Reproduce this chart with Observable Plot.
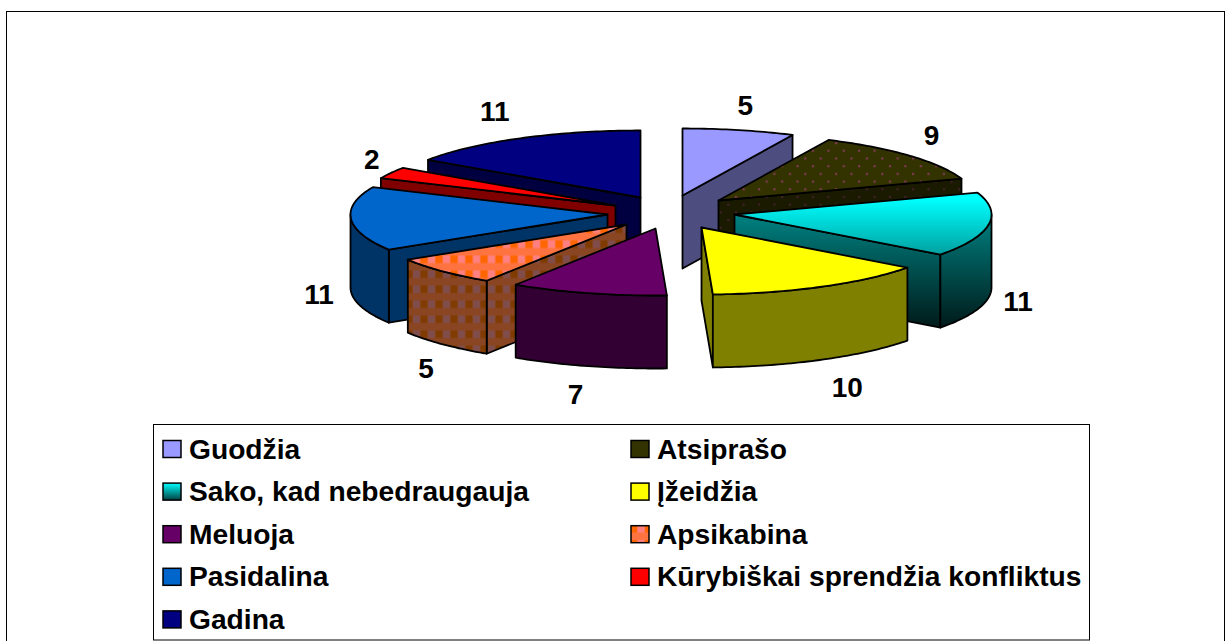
<!DOCTYPE html>
<html lang="lt">
<head>
<meta charset="utf-8">
<script src="https://cdn.jsdelivr.net/npm/d3@7"></script>
<script src="https://cdn.jsdelivr.net/npm/@observablehq/plot@0.6"></script>
<style>
html,body{margin:0;padding:0;background:#fff;overflow:hidden}
#chart svg{display:block}
</style>
</head>
<body>
<svg width="0" height="0" style="position:absolute">
  <defs>
    <linearGradient id="sakoTop" gradientUnits="userSpaceOnUse" x1="0" x2="0" y1="198" y2="255">
      <stop offset="0" stop-color="#00ffff"/><stop offset="1" stop-color="#009f9f"/>
    </linearGradient>
    <linearGradient id="sakoWall" gradientUnits="userSpaceOnUse" x1="0" x2="0" y1="215" y2="327">
      <stop offset="0" stop-color="#008080"/><stop offset="1" stop-color="#001a1a"/>
    </linearGradient>
    <linearGradient id="sakoKey" x1="0" x2="0" y1="0" y2="1">
      <stop offset="0" stop-color="#00ffff"/><stop offset="1" stop-color="#004040"/>
    </linearGradient>
    <pattern id="dotsTop" patternUnits="userSpaceOnUse" width="15.4" height="15.4">
      <rect width="15.4" height="15.4" fill="#333300"/>
      <rect x="3" y="3" width="2" height="2" fill="#8a3a60"/>
      <rect x="10.7" y="10.7" width="2" height="2" fill="#8a3a60"/>
    </pattern>
    <pattern id="dotsWall" patternUnits="userSpaceOnUse" width="15.4" height="15.4">
      <rect width="15.4" height="15.4" fill="#1a1a00"/>
      <rect x="3" y="3" width="2" height="2" fill="#452030"/>
      <rect x="10.7" y="10.7" width="2" height="2" fill="#452030"/>
    </pattern>
    <pattern id="plaidTop" patternUnits="userSpaceOnUse" width="15" height="15">
      <rect width="15" height="15" fill="#ff7340"/>
      <rect x="0" y="0" width="7" height="7.5" fill="#ff6600"/>
      <rect x="7.5" y="0" width="7" height="7.5" fill="#ff8080"/>
    </pattern>
    <pattern id="plaidWall" patternUnits="userSpaceOnUse" width="15" height="15">
      <rect width="15" height="15" fill="#8a4522"/>
      <rect x="0" y="0" width="7" height="7.5" fill="#803c00"/>
      <rect x="7.5" y="0" width="7" height="7.5" fill="#804d4d"/>
    </pattern>
  </defs>
</svg>
<div id="chart"></div>
<script>
// Chart values
const categories = ["Guodžia","Atsiprašo","Sako, kad nebedraugauja","Įžeidžia","Meluoja","Apsikabina","Pasidalina","Kūrybiškai sprendžia konfliktus","Gadina"];
const values = [5,9,11,10,7,5,11,2,11];

// Styles
const topFills = ["#9999ff","url(#dotsTop)","url(#sakoTop)","#ffff00","#660066","url(#plaidTop)","#0066cc","#ff0000","#000080"];
const wallFills = ["#4d4d80","url(#dotsWall)","url(#sakoWall)","#808000","#330033","url(#plaidWall)","#003366","#800000","#000040"];
const keyFills = ["#9999ff","#333300","url(#sakoKey)","#ffff00","#660066","url(#plaidTop)","#0066cc","#ff0000","#000080"];

// Layout: projected pie shape, and where each exploded slice's tip lands
const rx = 257, ry = 67, depth = 73;
const tipX = [682,718,734,701,655,626,607,615,640];
const tipY = [195,200,214,227,228,224,214,205,197];
const labelNudgeX = [0,0,1,12,-5,4,-3,6,-12];
const labelNudgeY = [0,-3,0,6,5,7,1,-1,-4];
const paintOrder = [8,7,0,1,6,2,5,4,3];
const font = "Liberation Sans, Arial, sans-serif";

const total = d3.sum(values);
const rad = d => d * Math.PI / 180;
let running = 0;
const slices = values.map((v, i) => {
  const a0 = running / total * 360; running += v;
  const a1 = running / total * 360;
  return {i, a0, a1, mid: (a0 + a1) / 2, tx: tipX[i], ty: tipY[i]};
});
const rim = (s, a, dy = 0) => ({x: s.tx + rx * Math.sin(rad(a)), y: s.ty - ry * Math.cos(rad(a)) + dy});
const arc = (s, from, to, dy = 0) => {
  const pts = [], n = Math.max(1, Math.ceil(Math.abs(to - from)));
  for (let k = 0; k <= n; k++) pts.push(rim(s, from + (to - from) * k / n, dy));
  return pts;
};
const face = (pts, fill) => Plot.line(pts, {x: "x", y: "y", fill, stroke: "#000", strokeWidth: 1.8, strokeLinejoin: "round", curve: "linear-closed"});
const tip = (s, dy = 0) => ({x: s.tx, y: s.ty + dy});

const pieMarks = paintOrder.flatMap(i => {
  const s = slices[i], marks = [];
  // Only the cut faces turned towards the viewer are drawn
  for (const [a, normal] of [[s.a0, s.a0 - 90], [s.a1, s.a1 + 90]]) {
    if (Math.cos(rad(normal)) < 0 || (i === 0 && a === s.a1)) {
      marks.push(face([tip(s), rim(s, a), rim(s, a, depth), tip(s, depth)], wallFills[i]));
    }
  }
  const w0 = Math.max(s.a0, 90), w1 = Math.min(s.a1, 270);
  if (w1 > w0) marks.push(face([...arc(s, w0, w1), ...arc(s, w1, w0, depth)], wallFills[i]));
  marks.push(face([tip(s), ...arc(s, s.a0, s.a1)], topFills[i]));
  return marks;
});

const labels = slices.map(s => {
  const c = Math.cos(rad(s.mid));
  return {
    text: String(values[s.i]),
    x: s.tx + (rx + 29) * Math.sin(rad(s.mid)) + labelNudgeX[s.i],
    y: s.ty - (ry + 25) * c + (c < 0 ? depth : 0) + labelNudgeY[s.i]
  };
});

const legendItems = categories.map((name, i) => ({
  name, i,
  x: i % 2 ? 656.5 : 188.5,
  y: 449 + Math.floor(i / 2) * 42.6
}));

const chart = Plot.plot({
  width: 1230, height: 641, margin: 0,
  x: {domain: [0, 1230], range: [0, 1230], axis: null},
  y: {domain: [0, 641], range: [0, 641], axis: null},
  marks: [
    Plot.rect([{a: 6.5, b: 1224.5, c: 11.5, d: 660}], {x1: "a", x2: "b", y1: "c", y2: "d", fill: "#fff", stroke: "#000", strokeWidth: 1}),
    ...pieMarks,
    Plot.text(labels, {x: "x", y: "y", text: "text", fontSize: 28, fontWeight: "bold", fontFamily: font, fill: "#000"}),
    Plot.rect([{a: 153.5, b: 1089.5, c: 424.5, d: 640}], {x1: "a", x2: "b", y1: "c", y2: "d", fill: "#fff", stroke: "#000", strokeWidth: 1}),
    ...legendItems.map(d => Plot.rect([d], {
      x1: v => v.x - 25.5, x2: v => v.x - 7.5, y1: v => v.y - 8.5, y2: v => v.y + 8.5,
      fill: keyFills[d.i], stroke: "#000", strokeWidth: 1.5
    })),
    Plot.text(legendItems, {x: "x", y: "y", text: "name", textAnchor: "start", fontSize: 28.2, fontWeight: "bold", fontFamily: font, fill: "#000"})
  ]
});
document.getElementById("chart").append(chart);
</script>
</body>
</html>
